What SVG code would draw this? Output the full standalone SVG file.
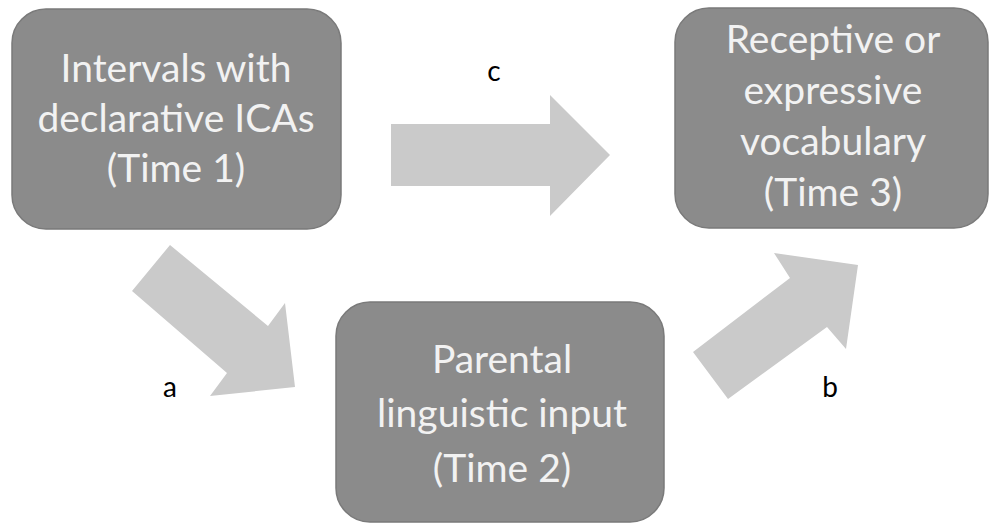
<svg xmlns="http://www.w3.org/2000/svg" width="991" height="525" viewBox="0 0 991 525">
<style>
.box{fill:#8b8b8b;stroke:#7a7a7a;stroke-width:1.5}
.bt{font-family:Lato,"Liberation Sans",sans-serif;font-size:39px;font-weight:400;fill:#f2f2f2;text-anchor:middle}
.arr{fill:#cacaca}
.lbl{font-family:Lato,"Liberation Sans",sans-serif;font-size:28px;fill:#000;text-anchor:middle}
</style>
<rect width="991" height="525" fill="#fff"/>
<g id="connectors">
<g id="arrow-c"><polygon class="arr" points="391,124 550,124 550,95 610,155 550,216 550,186 391,186"/><text class="lbl" x="494" y="81">c</text></g>
<g id="arrow-a"><polygon class="arr" points="170,245 268,326 285,303 295,387 210,396 227,373 132,291"/><text class="lbl" x="170" y="397">a</text></g>
<g id="arrow-b"><polygon class="arr" points="693,352 790,278 774,253 858,265 846,349 827,327 728,399"/><text class="lbl" x="830" y="397">b</text></g>
</g>
<g id="node1"><rect class="box" x="12" y="9" width="329" height="220" rx="34"/>
<text class="bt" x="176" y="82">Intervals with</text>
<text class="bt" x="176" y="132">declarative ICAs</text>
<text class="bt" x="176" y="182">(Time 1)</text></g>
<g id="node3"><rect class="box" x="675" y="8" width="313" height="220" rx="34"/>
<text class="bt" x="833" y="53">Receptive or</text>
<text class="bt" x="833" y="104">expressive</text>
<text class="bt" x="833" y="155">vocabulary</text>
<text class="bt" x="833" y="206">(Time 3)</text></g>
<g id="node2"><rect class="box" x="336" y="302" width="328" height="220" rx="34"/>
<text class="bt" x="502" y="373">Parental</text>
<text class="bt" x="502" y="427">linguistic input</text>
<text class="bt" x="502" y="482">(Time 2)</text></g>
</svg>
